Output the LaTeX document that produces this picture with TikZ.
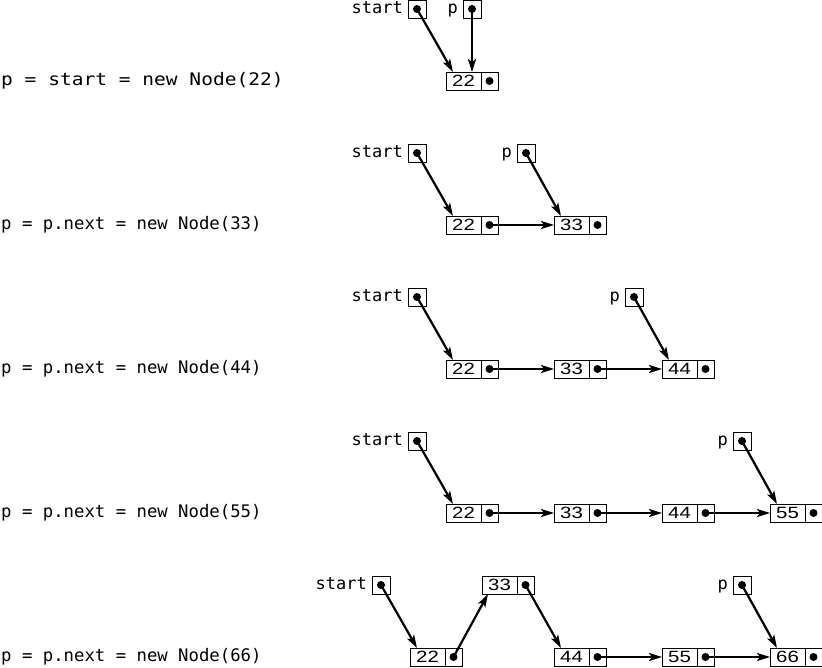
\documentclass[tikz,border=0pt]{standalone}
\usepackage{fontspec}
\setmonofont{DejaVu Sans Mono}
\newfontfamily\codewide[FakeStretch=1.13]{DejaVu Sans Mono}
\newfontfamily\numfont[FakeStretch=1.25]{Liberation Sans}
\usetikzlibrary{calc,positioning,arrows.meta}
\tikzset{>={Stealth[length=13pt,width=8pt,inset=3pt]}}
\tikzset{
  cell/.style={draw,line width=.8pt,minimum height=18pt,inner sep=0pt,outer sep=0pt},
  datacell/.style={cell,minimum width=35pt,anchor=north west,font=\numfont\fontsize{16.3}{16}\selectfont},
  ptrcell/.style={cell,minimum width=17pt,anchor=west},
  varbox/.style={cell,minimum width=18pt,anchor=north west},
  varname/.style={font=\ttfamily\fontsize{17}{17}\selectfont,inner sep=0pt,text height=12pt,text depth=3pt,left=5pt of #1},
  code/.style={font=\ttfamily\fontsize{17.3}{18}\selectfont,anchor=west,inner sep=0pt},
  ptr/.style={->,line width=2.2pt},
}
\newcommand\listnode[4]{% name, x, y, value
  \node[datacell] (d#1) at ({#2},{#3}) {#4};
  \node[ptrcell] (p#1) at (d#1.east) {};
  \fill (p#1.center) circle (4pt);
}
\newcommand\ptrvar[4]{% name, x, y, text
  \node[varbox] (#1) at ({#2},{#3}) {};
  \fill (#1.center) circle (4pt);
  \node[varname=#1] (t#1) {#4};
}
\begin{document}
\begin{tikzpicture}[x=1pt,y=-1pt]
\useasboundingbox (0,0) rectangle (822,668);
% code lines on the left
\node[code,font=\codewide\fontsize{17.3}{18}\selectfont] (c0) at (1,81) {p = start = new Node(22)};
\foreach \r/\txt in {1/{p = p.next = new Node(33)},2/{p = p.next = new Node(44)},3/{p = p.next = new Node(55)},4/{p = p.next = new Node(66)}}
  \node[code] (c\r) at (1,{81+144*\r}) {\txt};
% the first four lists
\foreach \r/\n/\px in {0/1/463,1/2/517,2/3/625,3/4/733} {
  \ptrvar{s\r}{408}{144*\r}{start}
  \ptrvar{v\r}{\px}{144*\r}{p}
  \foreach \k in {1,...,\n} {
    \pgfmathtruncatemacro\val{11*(\k+1)}
    \pgfmathtruncatemacro\kp{\k-1}
    \listnode{\r\k}{446+108*(\k-1)}{72+144*\r}{\val}
    \ifnum\k>1 \draw[ptr] (p\r\kp.center) -- (d\r\k.west); \fi
  }
  \draw[ptr] (s\r.center) -- ([xshift=7pt]d\r1.north west);
  \ifnum\r=0
    \draw[ptr] (v0.center) -- (v0.center |- d01.north);
  \else
    \draw[ptr] (v\r.center) -- ([xshift=7pt]d\r\n.north west);
  \fi
}
% the last list, 33 lifted up
\ptrvar{s4}{372}{576}{start}
\ptrvar{v4}{733}{576}{p}
\listnode{41}{410}{648}{22}
\listnode{42}{482}{576}{33}
\listnode{43}{554}{648}{44}
\listnode{44}{662}{648}{55}
\listnode{45}{770}{648}{66}
\draw[ptr] (s4.center) -- ([xshift=7pt]d41.north west);
\draw[ptr] (p41.center) -- ([xshift=6pt]d42.south west);
\draw[ptr] (p42.center) -- ([xshift=7pt]d43.north west);
\draw[ptr] (p43.center) -- (d44.west);
\draw[ptr] (p44.center) -- (d45.west);
\draw[ptr] (v4.center) -- ([xshift=7pt]d45.north west);
\end{tikzpicture}
\end{document}
